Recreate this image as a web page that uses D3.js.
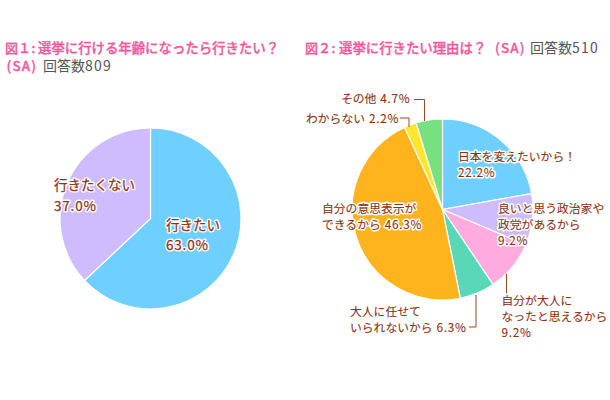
<!DOCTYPE html>
<html><head><meta charset="utf-8">
<script src="https://cdn.jsdelivr.net/npm/d3@7"></script>
<style>
html,body{margin:0;padding:0;background:#fff}
text{font-family:"Noto Sans CJK JP","Noto Sans",sans-serif}
</style></head><body>
<svg id="c" width="610" height="400"></svg>
<script>
const leftCats=["行きたい","行きたくない"];
const leftVals=[63.0,37.0];
const leftCols=["#6fd0ff","#cfbcff"];
const rightCats=["日本を変えたいから\uFF01","良いと思う政治家や政党があるから","自分が大人になったと思えるから","大人に任せていられないから","自分の意思表示ができるから","わからない","その他"];
const rightVals=[22.2,9.2,9.2,6.3,46.3,2.2,4.7];
const rightCols=["#6fd0ff","#cfbcff","#ffabdf","#58d8b6","#ffb31c","#ffe62e","#78e07e"];
const leftLabels=[
 {x:166,y:229.5,lines:["行きたい","63.0%"]},
 {x:54,y:190,lines:["行きたくない","37.0%"]}];
const rightLabels=[
 {x:458,y:161,lines:["日本を変えたいから\uFF01","22.2%"]},
 {x:498,y:213,lines:["良いと思う政治家や","政党があるから","9.2%"]},
 {x:501.5,y:305,lines:["自分が大人に","なったと思えるから","9.2%"]},
 {x:350,y:316,lines:["大人に任せて","いられないから\u20046.3%"]},
 {x:322,y:213,lines:["自分の意思表示が","できるから\u200446.3%"]},
 {x:306,y:122.5,lines:["わからない\u20042.2%"]},
 {x:341,y:103,lines:["その他\u20044.7%"]}];
const leaders=[
 [[414,99.5],[424.5,99.5],[424.5,121]],
 [[399.5,118],[409,118],[409,127]],
 [[506.5,274],[506.5,293]],
 [[469,327],[476,327],[476,295]]];

const svg=d3.select("#c");
const pieGen=d3.pie().sort(null).value(d=>d);
const arc=d3.arc().innerRadius(0).outerRadius(90.5);
function drawPie(cx,cy,vals,cols){
  const g=svg.append("g").attr("transform",`translate(${cx},${cy})`);
  g.selectAll("path").data(pieGen(vals)).join("path")
    .attr("d",arc).attr("fill",(d,i)=>cols[i])
    .attr("stroke","#fff").attr("stroke-width",1.2);
}
drawPie(150.5,218.5,leftVals,leftCols);
drawPie(442.5,209.5,rightVals,rightCols);

svg.append("g").selectAll("path").data(leaders).join("path")
  .attr("d",d3.line()).attr("fill","none")
  .attr("stroke","#96492a").attr("stroke-width",1);

function addRuns(t,s,ls){
  s.split(/([\d.%]+)/).filter(p=>p).forEach(p=>{
    const r=t.append("tspan").text(p);
    if(/^[\d.%]+$/.test(p)) r.attr("letter-spacing",ls);
  });
}
function labels(data,size,lh,embolden){
  const halo=svg.append("g"),ink=svg.append("g");
  data.forEach(l=>l.lines.forEach((s,i)=>{
    [halo,ink].forEach((g,k)=>{
      const t=g.append("text").attr("x",l.x).attr("y",l.y+i*lh).attr("font-size",size);
      if(k===0) t.attr("fill","none").attr("stroke","#fff").attr("stroke-width",3).attr("stroke-linejoin","round");
      else t.attr("fill","#8a3312").attr("stroke","#8a3312").attr("stroke-width",embolden);
      addRuns(t,s,size*0.06);
    });
  }));
}
labels(leftLabels,13.5,20.7,0.25);
labels(rightLabels,11.8,15.8,0.1);

function title(x,y,s,col,size,bold,spacing){
  const t=svg.append("text").attr("x",x).attr("y",y).attr("font-size",size).attr("font-weight",bold?500:400).attr("fill",col);
  if(bold) t.attr("stroke",col).attr("stroke-width",0.3);
  if(spacing) t.attr("letter-spacing",spacing);
  addRuns(t,s,1.2);
}
const pink="#f2589c",gray="#555";
title(5,53,"図\uFF11",pink,13,true);
title(31.5,53,":",pink,13,true);
title(38,53,"選挙に行ける年齢になったら行きたい\uFF1F",pink,13.4,true);
title(6.5,71,"(SA)",pink,13.4,true,1.2);
title(43,71,"回答数809",gray,14,false);
title(305,53,"図\uFF12",pink,13,true);
title(331.5,53,":",pink,13,true);
title(339,53,"選挙に行きたい理由は\uFF1F",pink,13.4,true);
title(495,53,"(SA)",pink,13.4,true,1.2);
title(530,53,"回答数510",gray,14,false);
</script>
</body></html>
